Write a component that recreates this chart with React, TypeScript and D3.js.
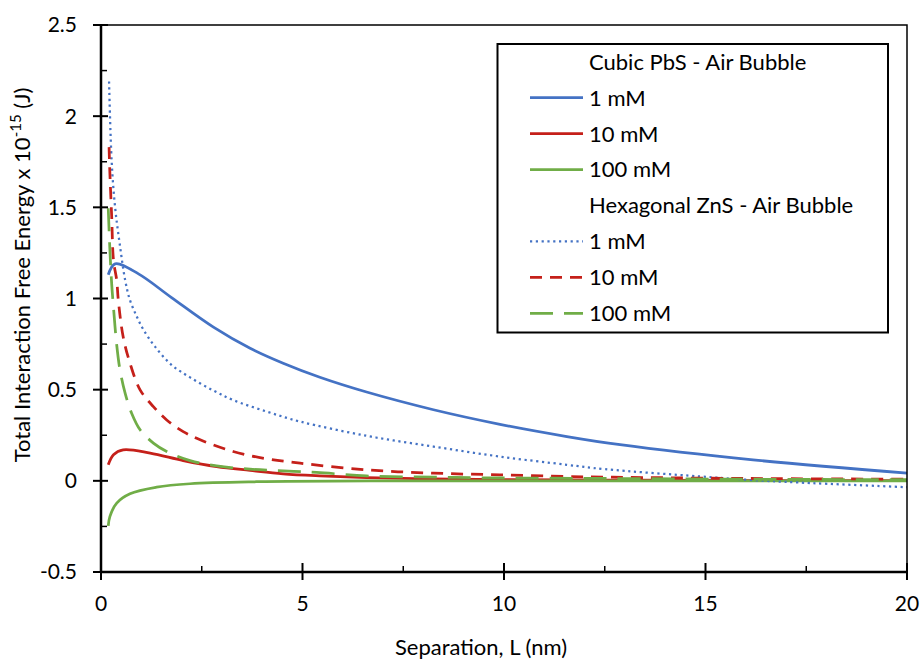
import React from 'react';
import * as d3 from 'd3';

// separation L (nm) and energy (x 10^-15 J)
const pbs1L = [0.18, 0.35, 0.93, 1.75, 2.79, 3.7, 4.52, 5.43, 6.59, 8.25, 9.9, 11.56, 12.88, 16.18, 20];
const pbs1E = [1.13, 1.19, 1.135, 1.005, 0.843, 0.727, 0.645, 0.568, 0.487, 0.39, 0.31, 0.243, 0.198, 0.115, 0.042];

const pbs10L = [0.18, 0.31, 0.55, 1.22, 2.04, 2.87, 3.7, 4.52, 5.43, 6.59, 8.25, 10, 12.5, 15, 20];
const pbs10E = [0.088, 0.143, 0.17, 0.152, 0.111, 0.078, 0.057, 0.038, 0.027, 0.018, 0.011, 0.007, 0.004, 0.002, 0.001];

const pbs100L = [0.18, 0.22, 0.39, 0.72, 1.38, 2.21, 3.86, 7.17, 12, 20];
const pbs100E = [-0.247, -0.196, -0.122, -0.071, -0.035, -0.016, -0.005, 0.0, 0.0, 0.0];

const zns1L = [0.2, 0.265, 0.35, 0.47, 0.6, 0.72, 0.89, 1.05, 1.34, 1.75, 2.25, 2.79, 3.28, 4.11, 4.94, 6.59, 8.25, 9.9, 11.56, 12.5, 14.86, 16.1, 17.3, 20];
const zns1E = [2.19, 1.75, 1.5, 1.29, 1.1, 0.99, 0.9, 0.83, 0.736, 0.636, 0.562, 0.495, 0.443, 0.38, 0.325, 0.247, 0.188, 0.133, 0.088, 0.064, 0.024, 0.005, -0.009, -0.035];

const zns10L = [0.2, 0.22, 0.265, 0.31, 0.39, 0.43, 0.55, 0.72, 0.97, 1.3, 1.63, 2.04, 2.46, 3.28, 4.11, 4.94, 6.59, 8.25, 9.9, 11.56, 12.7, 16, 20];
const zns10E = [1.83, 1.69, 1.45, 1.21, 1.1, 0.99, 0.79, 0.645, 0.499, 0.407, 0.334, 0.27, 0.225, 0.161, 0.121, 0.097, 0.06, 0.042, 0.033, 0.024, 0.02, 0.013, 0.009];

const zns100L = [0.18, 0.22, 0.265, 0.31, 0.39, 0.47, 0.6, 0.76, 0.97, 1.3, 1.63, 2.21, 2.87, 3.7, 4.52, 5.35, 6.59, 8.25, 9.9, 12.4, 16, 20];
const zns100E = [1.495, 1.27, 1.08, 0.95, 0.745, 0.61, 0.48, 0.371, 0.28, 0.207, 0.161, 0.111, 0.082, 0.064, 0.055, 0.046, 0.027, 0.02, 0.016, 0.013, 0.009, 0.006];

const xTicks = [0, 5, 10, 15, 20];
const yTicks = [-0.5, 0, 0.5, 1, 1.5, 2, 2.5];

const BLUE = '#4472C4';
const RED = '#C5201A';
const GREEN = '#70AD47';

type Style = { color: string; width: number; dash?: string };

const series: { name: string; L: number[]; E: number[]; style: Style }[] = [
  { name: '1 mM', L: pbs1L, E: pbs1E, style: { color: BLUE, width: 2.75 } },
  { name: '10 mM', L: pbs10L, E: pbs10E, style: { color: RED, width: 2.75 } },
  { name: '100 mM', L: pbs100L, E: pbs100E, style: { color: GREEN, width: 2.75 } },
  { name: '1 mM', L: zns1L, E: zns1E, style: { color: BLUE, width: 2.25, dash: '2.2 3.6' } },
  { name: '10 mM', L: zns10L, E: zns10E, style: { color: RED, width: 2.75, dash: '12 8' } },
  { name: '100 mM', L: zns100L, E: zns100E, style: { color: GREEN, width: 2.75, dash: '23 11' } },
];

const FONT = 'Lato, "Open Sans", sans-serif';

export default function App() {
  const width = 921;
  const height = 662;
  const left = 101, right = 907, top = 25, bottom = 572;

  const x = d3.scaleLinear().domain([0, 20]).range([left, right]);
  const y = d3.scaleLinear().domain([-0.5, 2.5]).range([bottom, top]);

  const line = d3.line<[number, number]>()
    .x(d => x(d[0]))
    .y(d => y(d[1]))
    .curve(d3.curveCatmullRom.alpha(0.5));

  const xMinor = d3.range(0, 20.01, 2.5).filter(v => v % 5 !== 0);
  const yMinor = d3.range(-0.25, 2.5, 0.5);

  // legend rows: group headings followed by their series
  const legendRows: { label: string; style?: Style }[] = [
    { label: 'Cubic PbS - Air Bubble' },
    ...series.slice(0, 3).map(s => ({ label: s.name, style: s.style })),
    { label: 'Hexagonal ZnS - Air Bubble' },
    ...series.slice(3).map(s => ({ label: s.name, style: s.style })),
  ];

  return (
    <svg width={width} height={height} style={{ position: 'absolute', left: 0, top: 0, background: '#fff' }}
      fontFamily={FONT}>
      <rect x={0} y={0} width={width} height={height} fill="#fff" />

      {/* series */}
      <g fill="none">
        {series.map((s, i) => (
          <path key={i}
            d={line(s.L.map((l, j) => [l, s.E[j]] as [number, number])) || ''}
            stroke={s.style.color}
            strokeWidth={s.style.width}
            strokeDasharray={s.style.dash}
            strokeLinejoin="round" />
        ))}
      </g>

      {/* plot frame */}
      <rect x={left} y={top} width={right - left} height={bottom - top} fill="none" stroke="#000" strokeWidth={1.5} />
      <line x1={left} x2={left} y1={top} y2={bottom} stroke="#000" strokeWidth={2.5} />
      <line x1={left} x2={right} y1={bottom} y2={bottom} stroke="#000" strokeWidth={2.5} />

      {/* y ticks */}
      {yTicks.map(t => (
        <g key={t}>
          <line x1={left - 8} x2={left + 7} y1={y(t)} y2={y(t)} stroke="#000" strokeWidth={2} />
          <text x={77} y={y(t)} dy="0.35em" textAnchor="end" fontSize={21} fill="#000">{t}</text>
        </g>
      ))}
      {yMinor.map(t => (
        <line key={t} x1={left} x2={left + 6} y1={y(t)} y2={y(t)} stroke="#000" strokeWidth={1.5} />
      ))}

      {/* x ticks */}
      {xTicks.map(t => (
        <g key={t}>
          <line x1={x(t)} x2={x(t)} y1={bottom - 9} y2={bottom + 8} stroke="#000" strokeWidth={2} />
          <text x={x(t)} y={611} textAnchor="middle" fontSize={21} fill="#000">{t}</text>
        </g>
      ))}
      {xMinor.map(t => (
        <line key={t} x1={x(t)} x2={x(t)} y1={bottom - 6} y2={bottom} stroke="#000" strokeWidth={1.5} />
      ))}

      {/* axis titles */}
      <text x={481} y={655} textAnchor="middle" fontSize={22} fill="#000">Separation, L (nm)</text>
      <text transform="translate(30,275) rotate(-90)" textAnchor="middle" fontSize={22} fill="#000">
        Total Interaction Free Energy x 10<tspan fontSize={15} dy={-9}>-15</tspan><tspan dy={9}> (J)</tspan>
      </text>

      {/* legend */}
      <rect x={497.5} y={44} width={390.5} height={288.5} fill="#fff" stroke="#000" strokeWidth={2} />
      {legendRows.map((r, i) => {
        const cy = 61.7 + i * 35.95;
        return (
          <g key={i}>
            {r.style && (
              <line x1={530} x2={583} y1={cy} y2={cy} stroke={r.style.color}
                strokeWidth={r.style.width} strokeDasharray={r.style.dash} />
            )}
            <text x={589} y={cy} dy="0.36em" fontSize={22} fill="#000">{r.label}</text>
          </g>
        );
      })}
    </svg>
  );
}
